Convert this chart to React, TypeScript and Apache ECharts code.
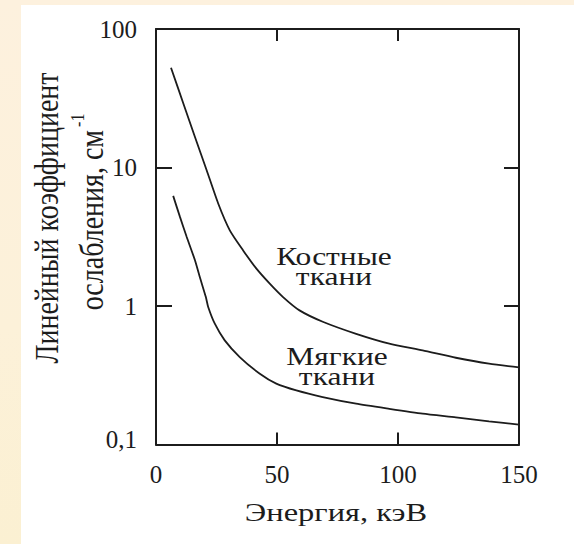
import React, { useEffect, useRef } from "react";
import * as echarts from "echarts";

// Energy (keV) and linear attenuation coefficient (cm^-1)
const boneEnergy = [6.2, 11.3, 16.1, 20.9, 25.7, 30.5, 36.0, 41.5, 47.0, 52.5, 59.3, 68.9, 82.7, 96.4, 110.2, 123.9, 137.6, 150];
const boneMu = [52.5, 29.0, 16.6, 9.6, 5.5, 3.52, 2.52, 1.86, 1.45, 1.16, 0.93, 0.77, 0.63, 0.535, 0.478, 0.423, 0.383, 0.36];

const softEnergy = [7.1, 9.9, 12.7, 16.1, 18.1, 20.6, 21.6, 24.3, 28.4, 34.6, 42.9, 49.7, 58.0, 68.9, 82.7, 96.4, 110.2, 123.9, 137.6, 150];
const softMu = [6.24, 4.4, 3.15, 2.14, 1.62, 1.16, 0.98, 0.745, 0.565, 0.428, 0.324, 0.275, 0.2455, 0.22, 0.197, 0.181, 0.167, 0.157, 0.147, 0.139];

const xTicks = [0, 50, 100, 150];
const yTickLabels: Record<string, string> = { "100": "100", "10": "10", "1": "1", "0.1": "{lo|0,1}" };

const xTitle = "Энергия, кэВ";
const yTitle1 = "Линейный коэффициент";
const yTitle2 = "ослабления, см";
const yTitleSup = "-1";
const boneLabel = "Костные\nткани";
const softLabel = "Мягкие\nткани";

const FONT = "Liberation Serif";
const INK = "#1c1c1c";

export default function App() {
  const ref = useRef<HTMLDivElement>(null);
  useEffect(() => {
    if (!ref.current) return;
    const chart = echarts.init(ref.current, undefined, { renderer: "svg" });
    const toPairs = (xs: number[], ys: number[]) => xs.map((x, i) => [x, ys[i]]);
    const txt = (text: string, x: number, y: number, size: number, extra: any = {}, styleExtra: any = {}) => ({
      type: "text",
      x,
      y,
      silent: true,
      z: 10,
      style: {
        text,
        font: `${size}px "${FONT}"`,
        fill: INK,
        align: "center",
        verticalAlign: "middle",
        textAlign: "center",
        textVerticalAlign: "middle",
        ...styleExtra,
      },
      ...extra,
    });
    chart.setOption({
      animation: false,
      backgroundColor: "transparent",
      grid: { left: 156, top: 29, width: 363, height: 415.5, containLabel: false },
      xAxis: [
        {
          type: "value",
          min: 0,
          max: 150,
          interval: 50,
          position: "bottom",
          axisLine: { show: true, onZero: false, lineStyle: { color: INK, width: 2 } },
          axisTick: { show: true, inside: true, length: 12, lineStyle: { color: INK, width: 2 } },
          axisLabel: {
            show: true,
            margin: 17,
            fontFamily: FONT,
            fontSize: 25,
            color: INK,
            formatter: (v: number) => (xTicks.includes(v) ? String(v) : ""),
          },
          splitLine: { show: false },
        },
        {
          type: "value",
          min: 0,
          max: 150,
          interval: 50,
          position: "top",
          axisLine: { show: true, onZero: false, lineStyle: { color: INK, width: 2 } },
          axisTick: { show: true, inside: true, length: 12, lineStyle: { color: INK, width: 2 } },
          axisLabel: { show: false },
          splitLine: { show: false },
        },
      ],
      yAxis: [
        {
          type: "log",
          logBase: 10,
          min: 0.1,
          max: 100,
          position: "left",
          axisLine: { show: true, onZero: false, lineStyle: { color: INK, width: 2 } },
          axisTick: { show: true, inside: true, length: 16, lineStyle: { color: INK, width: 2 } },
          minorTick: { show: false },
          axisLabel: {
            show: true,
            margin: 19,
            fontFamily: FONT,
            fontSize: 25,
            color: INK,
            formatter: (v: number) => {
              const k = String(Math.round(v * 10) / 10);
              return yTickLabels[k] ?? "";
            },
            rich: {
              lo: { fontFamily: FONT, fontSize: 25, color: INK, padding: [0, 0, 10, 0] },
            },
          },
          splitLine: { show: false },
        },
        {
          type: "log",
          logBase: 10,
          min: 0.1,
          max: 100,
          position: "right",
          axisLine: { show: true, onZero: false, lineStyle: { color: INK, width: 2 } },
          axisTick: { show: true, inside: true, length: 15, lineStyle: { color: INK, width: 2 } },
          axisLabel: { show: false },
          splitLine: { show: false },
        },
      ],
      series: [
        {
          name: "Костные ткани",
          type: "line",
          data: toPairs(boneEnergy, boneMu),
          showSymbol: false,
          smooth: 0.2,
          lineStyle: { color: INK, width: 1.8 },
          z: 5,
        },
        {
          name: "Мягкие ткани",
          type: "line",
          data: toPairs(softEnergy, softMu),
          showSymbol: false,
          smooth: 0.2,
          lineStyle: { color: INK, width: 1.8 },
          z: 5,
        },
      ],
      graphic: [
        {
          type: "rect",
          silent: true,
          z: -10,
          shape: { x: 21, y: 5, width: 553, height: 539 },
          style: { fill: "#ffffff" },
        },
        txt(boneLabel, 334, 267, 25, { scaleX: 1.26 }, { lineHeight: 20 }),
        txt(softLabel, 337, 367, 25, { scaleX: 1.26 }, { lineHeight: 20 }),
        txt(xTitle, 336, 512, 25, { scaleX: 1.3 }),
        txt(yTitle1, 47, 218, 28, { rotation: Math.PI / 2, scaleY: 1.22 }),
        {
          type: "text",
          x: 88,
          y: 212,
          rotation: Math.PI / 2,
          scaleY: 1.22,
          silent: true,
          z: 10,
          style: {
            text: `{n|${yTitle2}}{s|${yTitleSup}}`,
            align: "center",
            verticalAlign: "middle",
            textAlign: "center",
            textVerticalAlign: "middle",
            rich: {
              n: { fontFamily: FONT, fontSize: 28, fill: INK, color: INK, lineHeight: 34, verticalAlign: "bottom" },
              s: { fontFamily: FONT, fontSize: 16, fill: INK, color: INK, lineHeight: 34, verticalAlign: "top", padding: [0, 0, 0, 3] },
            },
          },
        },
      ],
    });
    return () => chart.dispose();
  }, []);
  return (
    <div
      style={{
        position: "absolute",
        left: 0,
        top: 0,
        width: 574,
        height: 544,
        background: "linear-gradient(180deg, #fdf1de 0%, #fcf1d9 60%, #fbf0d2 100%)",
      }}
    >
      <div ref={ref} style={{ width: 574, height: 544 }} />
    </div>
  );
}
